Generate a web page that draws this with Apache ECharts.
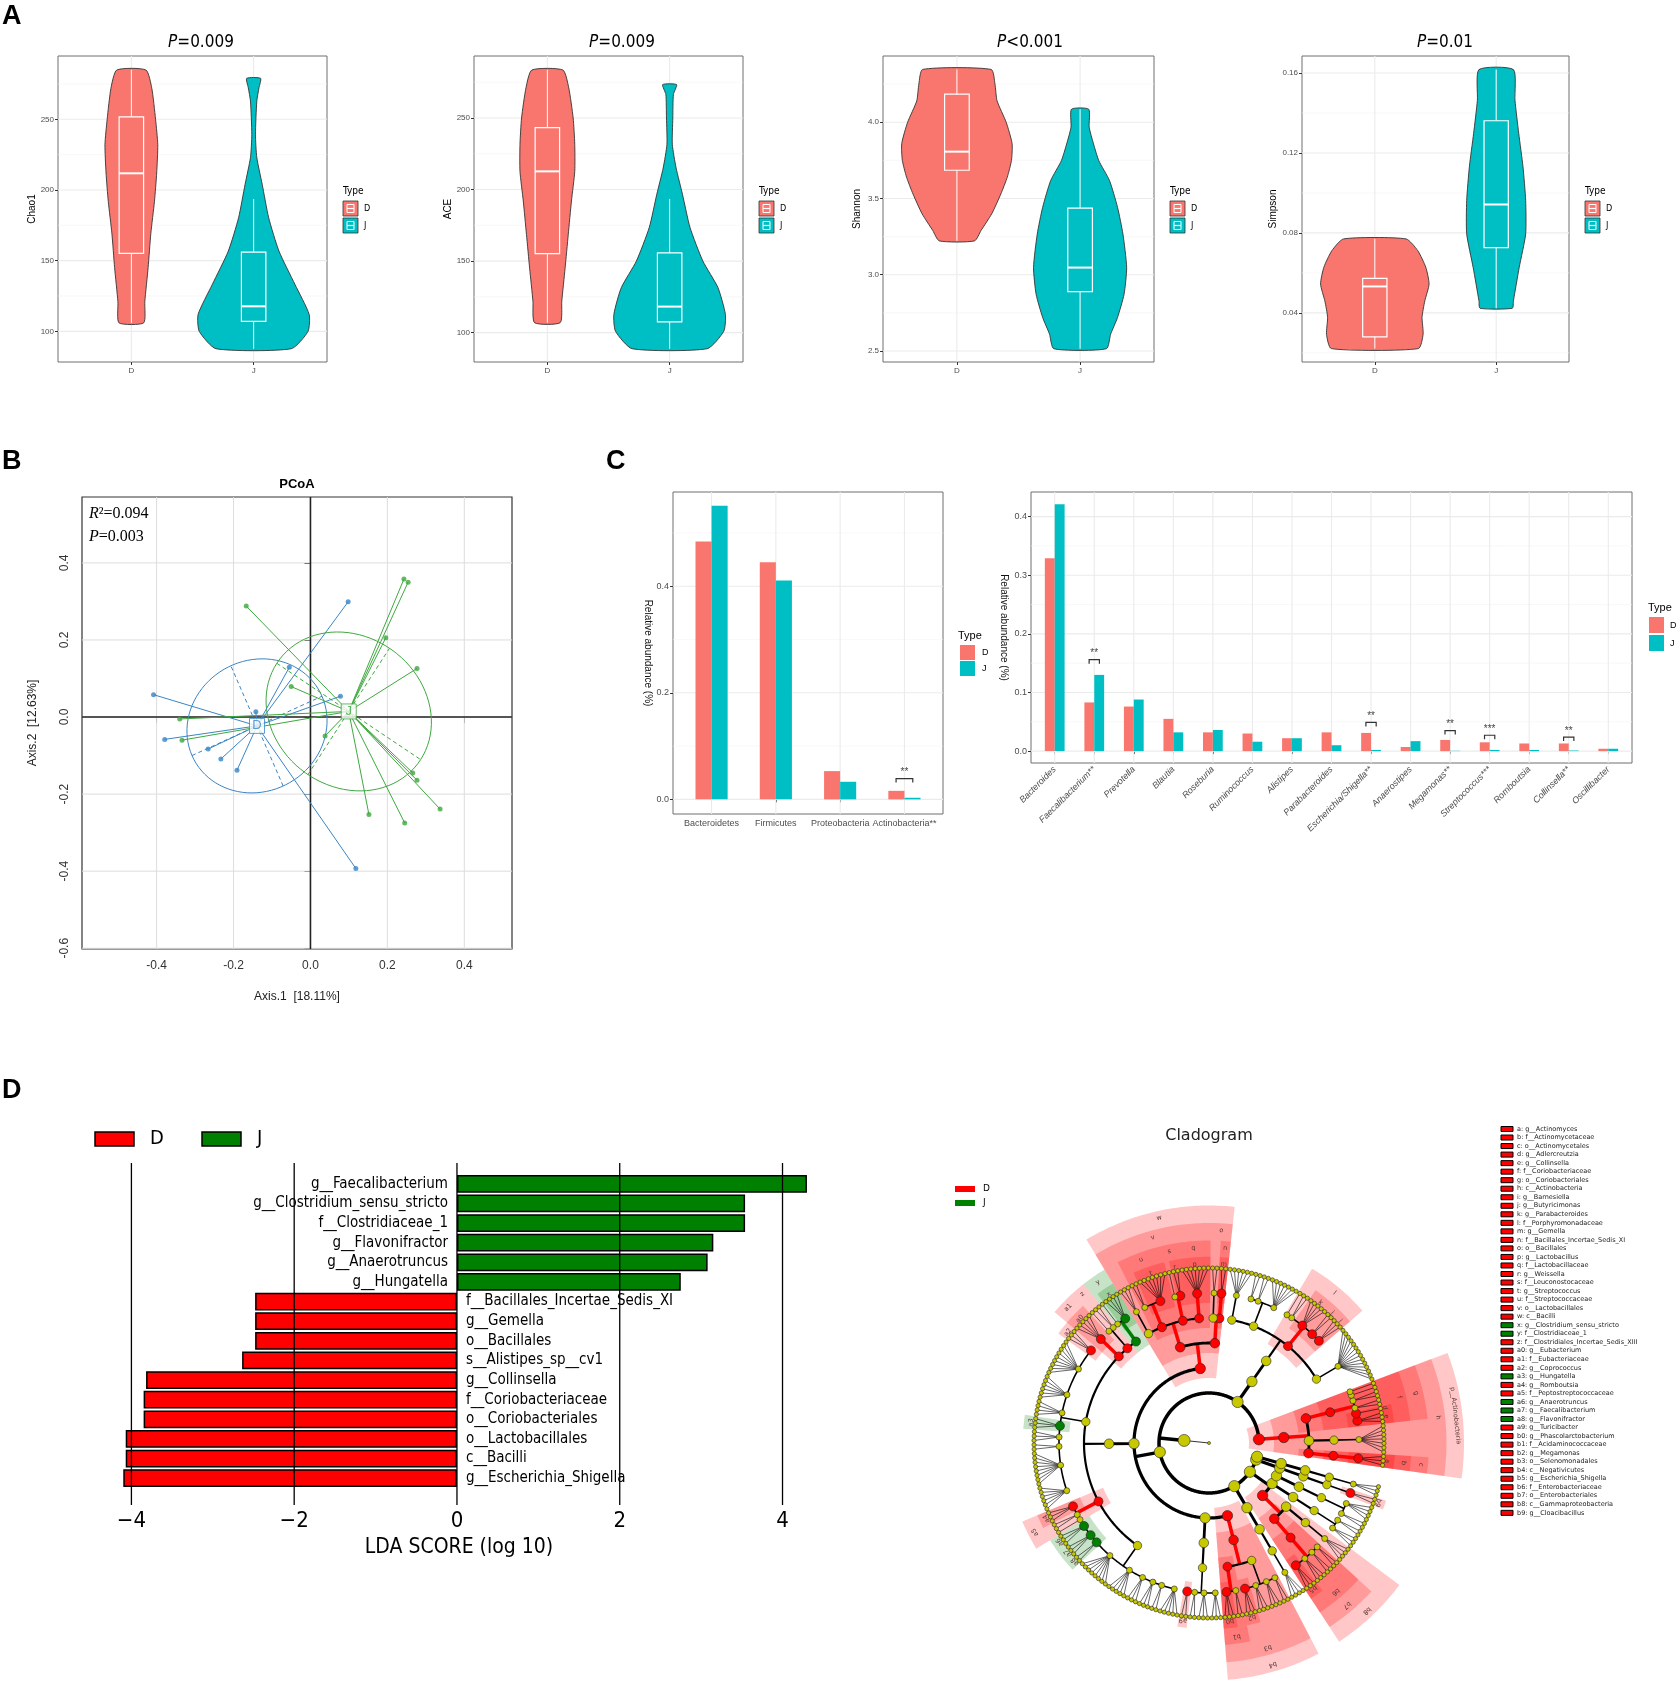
<!DOCTYPE html>
<html>
<head>
<meta charset="utf-8">
<title>Alpha diversity, PCoA, taxa and LEfSe</title>
<script src="https://cdn.jsdelivr.net/npm/echarts@6/dist/echarts.min.js"></script>
<style>
  html, body { margin: 0; padding: 0; background: #fff; }
  #main { width: 1676px; height: 1682px; }
</style>
</head>
<body>
<div id="main"></div>
<script>
const groups = ['D', 'J'];

// ---- A: violins, outline as (value, half width in x units), box = [min, q1, median, q3, max]
const chao1D_y = [284.9, 272, 250, 232, 212, 192, 169, 145, 121, 106];
const chao1D_w = [0.119, 0.167, 0.198, 0.216, 0.207, 0.189, 0.159, 0.137, 0.110, 0.101];
const chao1J_y = [279, 272.4, 263, 239, 222.9, 204, 180.4, 156.8, 133, 112, 100, 87.7];
const chao1J_w = [0.057, 0.044, 0.026, 0.015, 0.026, 0.070, 0.123, 0.207, 0.339, 0.454, 0.445, 0.308];
const chao1D_box = [106, 155.2, 211.8, 251.7, 284.9];
const chao1J_box = [87.7, 107, 117.7, 156, 193.6];

const aceD_y = [283.5, 271, 250, 231.6, 212.7, 192, 168.7, 145, 122, 107];
const aceD_w = [0.127, 0.175, 0.211, 0.224, 0.224, 0.197, 0.171, 0.145, 0.118, 0.105];
const aceJ_y = [273.3, 266.5, 250, 231.6, 215, 196.7, 173.4, 150, 131.5, 112.8, 101, 88.8];
const aceJ_w = [0.057, 0.031, 0.026, 0.022, 0.053, 0.105, 0.167, 0.272, 0.395, 0.456, 0.443, 0.307];
const aceD_box = [107, 155.2, 212.7, 243.2, 283.5];
const aceJ_box = [88.8, 107.5, 118.2, 155.7, 193.4];

const shanD_y = [4.346, 4.25, 4.14, 4.0, 3.86, 3.75, 3.64, 3.53, 3.40, 3.29, 3.222];
const shanD_w = [0.278, 0.309, 0.326, 0.400, 0.448, 0.443, 0.409, 0.357, 0.283, 0.196, 0.143];
const shanJ_y = [4.085, 3.967, 3.858, 3.748, 3.617, 3.442, 3.266, 3.047, 2.872, 2.72, 2.61, 2.515];
const shanJ_w = [0.070, 0.074, 0.109, 0.152, 0.239, 0.304, 0.348, 0.378, 0.357, 0.304, 0.248, 0.213];
const shanD_box = [3.222, 3.685, 3.807, 4.184, 4.346];
const shanJ_box = [2.515, 2.890, 3.047, 3.437, 4.085];

const simpD_y = [0.077, 0.0711, 0.0628, 0.0544, 0.046, 0.0377, 0.0293, 0.0221];
const simpD_w = [0.257, 0.354, 0.420, 0.447, 0.412, 0.389, 0.398, 0.358];
const simpJ_y = [0.1617, 0.1463, 0.1297, 0.113, 0.0962, 0.0795, 0.0628, 0.046, 0.0423];
const simpJ_w = [0.142, 0.155, 0.186, 0.221, 0.243, 0.243, 0.190, 0.142, 0.133];
const simpD_box = [0.0221, 0.028, 0.0532, 0.0572, 0.077];
const simpJ_box = [0.0423, 0.0726, 0.0942, 0.1361, 0.1617];

const alphaNames = ['Chao1', 'ACE', 'Shannon', 'Simpson'];
const alphaP = ['=0.009', '=0.009', '<0.001', '=0.01'];
const alphaRange = [[78.3, 294.8], [79.5, 293.3], [2.428, 4.434], [0.0154, 0.1685]];
const alphaTicks = [[100, 150, 200, 250], [100, 150, 200, 250], [2.5, 3.0, 3.5, 4.0], [0.04, 0.08, 0.12, 0.16]];
const alphaMinor = [[125, 175, 225, 275], [125, 175, 225, 275], [2.75, 3.25, 3.75, 4.25], [0.02, 0.06, 0.10, 0.14]];
const alphaDigits = [0, 0, 1, 2];

// ---- B: PCoA
const pcoaD_x = [-0.408, -0.379, -0.266, -0.233, -0.191, -0.142, -0.055, 0.078, 0.098, 0.118];
const pcoaD_y = [0.058, -0.058, -0.083, -0.109, -0.138, 0.014, 0.129, 0.054, 0.299, -0.393];
const pcoaJ_x = [-0.167, -0.340, -0.334, -0.050, 0.038, 0.196, 0.243, 0.254, 0.277, 0.266, 0.277, 0.337, 0.152, 0.245];
const pcoaJ_y = [0.288, -0.005, -0.060, 0.079, -0.049, 0.206, 0.358, 0.350, 0.126, -0.145, -0.164, -0.239, -0.253, -0.275];
const centroidD = [-0.139, -0.023];
const centroidJ = [0.0995, 0.0145];
const ellipseD = [0.169, 0.077, -0.068, 0.156];   // conjugate half axes u, v
const ellipseJ = [0.187, -0.125, 0.106, 0.164];
const pcoaTicksX = [-0.4, -0.2, 0.0, 0.2, 0.4];
const pcoaTicksY = [-0.6, -0.4, -0.2, 0.0, 0.2, 0.4];

// ---- C: relative abundance
const phyla = ['Bacteroidetes', 'Firmicutes', 'Proteobacteria', 'Actinobacteria**'];
const phylumD = [0.484, 0.445, 0.053, 0.016];
const phylumJ = [0.551, 0.411, 0.033, 0.003];
const phylumSig = [3];
const phylumSigY = [0.039];
const phylumSigText = ['**'];

const genera = ['Bacteroides', 'Faecalibacterium**', 'Prevotella', 'Blautia', 'Roseburia', 'Ruminococcus', 'Alistipes',
  'Parabacteroides', 'Escherichia/Shigella**', 'Anaerostipes', 'Megamonas**', 'Streptococcus***', 'Romboutsia', 'Collinsella**', 'Oscillibacter'];
const genusD = [0.329, 0.083, 0.076, 0.055, 0.032, 0.030, 0.022, 0.032, 0.031, 0.007, 0.019, 0.015, 0.013, 0.013, 0.004];
const genusJ = [0.421, 0.130, 0.088, 0.032, 0.036, 0.016, 0.022, 0.010, 0.002, 0.017, 0.0005, 0.002, 0.002, 0.001, 0.004];
const genusSig = [1, 8, 10, 11, 13];
const genusSigY = [0.156, 0.049, 0.035, 0.027, 0.024];
const genusSigText = ['**', '**', '**', '***', '**'];

// ---- D: LEfSe LDA
const ldaNames = ['g__Faecalibacterium', 'g__Clostridium_sensu_stricto', 'f__Clostridiaceae_1', 'g__Flavonifractor',
  'g__Anaerotruncus', 'g__Hungatella', 'f__Bacillales_Incertae_Sedis_XI', 'g__Gemella', 'o__Bacillales',
  's__Alistipes_sp__cv1', 'g__Collinsella', 'f__Coriobacteriaceae', 'o__Coriobacteriales', 'o__Lactobacillales',
  'c__Bacilli', 'g__Escherichia_Shigella'];
const ldaScores = [4.30, 3.54, 3.54, 3.15, 3.08, 2.75, -2.48, -2.48, -2.48, -2.64, -3.82, -3.85, -3.85, -4.07, -4.07, -4.10];
const ldaTicks = [-4, -2, 0, 2, 4];

// ---- D: cladogram taxonomy [phylum, class, order, family, genus, species leaves]
const cladeRows = [
  ['Actinobacteria', 'Actinobacteria', 'Actinomycetales', 'Actinomycetaceae', 'Actinomyces', 3],
  ['Actinobacteria', 'Actinobacteria', 'Bifidobacteriales', 'Bifidobacteriaceae', 'Bifidobacterium', 7],
  ['Actinobacteria', 'Actinobacteria', 'Coriobacteriales', 'Coriobacteriaceae', 'Collinsella', 3],
  ['Actinobacteria', 'Actinobacteria', 'Coriobacteriales', 'Coriobacteriaceae', 'Adlercreutzia', 1],
  ['Actinobacteria', 'Actinobacteria', 'Coriobacteriales', 'Coriobacteriaceae', 'Eggerthella', 2],
  ['Actinobacteria', 'Actinobacteria', 'Coriobacteriales', 'Coriobacteriaceae', 'Slackia', 2],
  ['Actinobacteria', 'Actinobacteria', 'Coriobacteriales', 'Coriobacteriaceae', 'Gordonibacter', 1],
  ['Actinobacteria', 'Actinobacteria', 'Coriobacteriales', 'Coriobacteriaceae', 'Senegalimassilia', 1],
  ['Bacteroidetes', 'Bacteroidia', 'Bacteroidales', 'Bacteroidaceae', 'Bacteroides', 14],
  ['Bacteroidetes', 'Bacteroidia', 'Bacteroidales', 'Porphyromonadaceae', 'Barnesiella', 3],
  ['Bacteroidetes', 'Bacteroidia', 'Bacteroidales', 'Porphyromonadaceae', 'Butyricimonas', 2],
  ['Bacteroidetes', 'Bacteroidia', 'Bacteroidales', 'Porphyromonadaceae', 'Parabacteroides', 5],
  ['Bacteroidetes', 'Bacteroidia', 'Bacteroidales', 'Porphyromonadaceae', 'Odoribacter', 2],
  ['Bacteroidetes', 'Bacteroidia', 'Bacteroidales', 'Porphyromonadaceae', 'Coprobacter', 1],
  ['Bacteroidetes', 'Bacteroidia', 'Bacteroidales', 'Prevotellaceae', 'Prevotella', 7],
  ['Bacteroidetes', 'Bacteroidia', 'Bacteroidales', 'Prevotellaceae', 'Alloprevotella', 2],
  ['Bacteroidetes', 'Bacteroidia', 'Bacteroidales', 'Prevotellaceae', 'Paraprevotella', 2],
  ['Bacteroidetes', 'Bacteroidia', 'Bacteroidales', 'Rikenellaceae', 'Alistipes', 6],
  ['Firmicutes', 'Bacilli', 'Bacillales', 'Bacillales_Incertae_Sedis_XI', 'Gemella', 2],
  ['Firmicutes', 'Bacilli', 'Bacillales', 'Staphylococcaceae', 'Staphylococcus', 2],
  ['Firmicutes', 'Bacilli', 'Lactobacillales', 'Lactobacillaceae', 'Lactobacillus', 7],
  ['Firmicutes', 'Bacilli', 'Lactobacillales', 'Leuconostocaceae', 'Weissella', 2],
  ['Firmicutes', 'Bacilli', 'Lactobacillales', 'Leuconostocaceae', 'Leuconostoc', 1],
  ['Firmicutes', 'Bacilli', 'Lactobacillales', 'Streptococcaceae', 'Streptococcus', 7],
  ['Firmicutes', 'Bacilli', 'Lactobacillales', 'Streptococcaceae', 'Lactococcus', 2],
  ['Firmicutes', 'Bacilli', 'Lactobacillales', 'Enterococcaceae', 'Enterococcus', 3],
  ['Firmicutes', 'Clostridia', 'Clostridiales', 'Clostridiaceae_1', 'Clostridium_sensu_stricto', 4],
  ['Firmicutes', 'Clostridia', 'Clostridiales', 'Clostridiaceae_1', 'Sarcina', 1],
  ['Firmicutes', 'Clostridia', 'Clostridiales', 'Clostridiales_Incertae_Sedis_XIII', 'Mogibacterium', 2],
  ['Firmicutes', 'Clostridia', 'Clostridiales', 'Clostridiales_Incertae_Sedis_XIII', 'Anaerovorax', 1],
  ['Firmicutes', 'Clostridia', 'Clostridiales', 'Eubacteriaceae', 'Eubacterium', 5],
  ['Firmicutes', 'Clostridia', 'Clostridiales', 'Lachnospiraceae', 'Coprococcus', 3],
  ['Firmicutes', 'Clostridia', 'Clostridiales', 'Lachnospiraceae', 'Blautia', 9],
  ['Firmicutes', 'Clostridia', 'Clostridiales', 'Lachnospiraceae', 'Roseburia', 6],
  ['Firmicutes', 'Clostridia', 'Clostridiales', 'Lachnospiraceae', 'Dorea', 4],
  ['Firmicutes', 'Clostridia', 'Clostridiales', 'Lachnospiraceae', 'Hungatella', 3],
  ['Firmicutes', 'Clostridia', 'Clostridiales', 'Lachnospiraceae', 'Anaerostipes', 3],
  ['Firmicutes', 'Clostridia', 'Clostridiales', 'Lachnospiraceae', 'Fusicatenibacter', 2],
  ['Firmicutes', 'Clostridia', 'Clostridiales', 'Lachnospiraceae', 'Clostridium_XlVa', 8],
  ['Firmicutes', 'Clostridia', 'Clostridiales', 'Lachnospiraceae', 'Lachnospiracea_incertae_sedis', 6],
  ['Firmicutes', 'Clostridia', 'Clostridiales', 'Peptostreptococcaceae', 'Romboutsia', 3],
  ['Firmicutes', 'Clostridia', 'Clostridiales', 'Peptostreptococcaceae', 'Intestinibacter', 2],
  ['Firmicutes', 'Clostridia', 'Clostridiales', 'Peptostreptococcaceae', 'Terrisporobacter', 1],
  ['Firmicutes', 'Clostridia', 'Clostridiales', 'Ruminococcaceae', 'Anaerotruncus', 3],
  ['Firmicutes', 'Clostridia', 'Clostridiales', 'Ruminococcaceae', 'Faecalibacterium', 3],
  ['Firmicutes', 'Clostridia', 'Clostridiales', 'Ruminococcaceae', 'Flavonifractor', 2],
  ['Firmicutes', 'Clostridia', 'Clostridiales', 'Ruminococcaceae', 'Ruminococcus', 8],
  ['Firmicutes', 'Clostridia', 'Clostridiales', 'Ruminococcaceae', 'Oscillibacter', 5],
  ['Firmicutes', 'Clostridia', 'Clostridiales', 'Ruminococcaceae', 'Subdoligranulum', 3],
  ['Firmicutes', 'Clostridia', 'Clostridiales', 'Ruminococcaceae', 'Gemmiger', 3],
  ['Firmicutes', 'Clostridia', 'Clostridiales', 'Ruminococcaceae', 'Butyricicoccus', 2],
  ['Firmicutes', 'Clostridia', 'Clostridiales', 'Ruminococcaceae', 'Clostridium_IV', 5],
  ['Firmicutes', 'Erysipelotrichia', 'Erysipelotrichales', 'Erysipelotrichaceae', 'Turicibacter', 2],
  ['Firmicutes', 'Erysipelotrichia', 'Erysipelotrichales', 'Erysipelotrichaceae', 'Holdemanella', 2],
  ['Firmicutes', 'Erysipelotrichia', 'Erysipelotrichales', 'Erysipelotrichaceae', 'Clostridium_XVIII', 3],
  ['Firmicutes', 'Erysipelotrichia', 'Erysipelotrichales', 'Erysipelotrichaceae', 'Erysipelatoclostridium', 3],
  ['Firmicutes', 'Negativicutes', 'Selenomonadales', 'Acidaminococcaceae', 'Phascolarctobacterium', 3],
  ['Firmicutes', 'Negativicutes', 'Selenomonadales', 'Acidaminococcaceae', 'Acidaminococcus', 2],
  ['Firmicutes', 'Negativicutes', 'Selenomonadales', 'Veillonellaceae', 'Megamonas', 3],
  ['Firmicutes', 'Negativicutes', 'Selenomonadales', 'Veillonellaceae', 'Veillonella', 3],
  ['Firmicutes', 'Negativicutes', 'Selenomonadales', 'Veillonellaceae', 'Dialister', 3],
  ['Firmicutes', 'Negativicutes', 'Selenomonadales', 'Veillonellaceae', 'Megasphaera', 2],
  ['Fusobacteria', 'Fusobacteriia', 'Fusobacteriales', 'Fusobacteriaceae', 'Fusobacterium', 4],
  ['Proteobacteria', 'Gammaproteobacteria', 'Enterobacteriales', 'Enterobacteriaceae', 'Escherichia_Shigella', 3],
  ['Proteobacteria', 'Gammaproteobacteria', 'Enterobacteriales', 'Enterobacteriaceae', 'Klebsiella', 3],
  ['Proteobacteria', 'Gammaproteobacteria', 'Enterobacteriales', 'Enterobacteriaceae', 'Enterobacter', 2],
  ['Proteobacteria', 'Gammaproteobacteria', 'Enterobacteriales', 'Enterobacteriaceae', 'Citrobacter', 2],
  ['Proteobacteria', 'Gammaproteobacteria', 'Pasteurellales', 'Pasteurellaceae', 'Haemophilus', 4],
  ['Proteobacteria', 'Betaproteobacteria', 'Burkholderiales', 'Sutterellaceae', 'Sutterella', 3],
  ['Proteobacteria', 'Betaproteobacteria', 'Burkholderiales', 'Sutterellaceae', 'Parasutterella', 2],
  ['Proteobacteria', 'Deltaproteobacteria', 'Desulfovibrionales', 'Desulfovibrionaceae', 'Bilophila', 2],
  ['Proteobacteria', 'Deltaproteobacteria', 'Desulfovibrionales', 'Desulfovibrionaceae', 'Desulfovibrio', 4],
  ['Synergistetes', 'Synergistia', 'Synergistales', 'Synergistaceae', 'Cloacibacillus', 2],
  ['Verrucomicrobia', 'Verrucomicrobiae', 'Verrucomicrobiales', 'Verrucomicrobiaceae', 'Akkermansia', 3]
];
const keyLetters = ['a','b','c','d','e','f','g','h','i','j','k','l','m','n','o','p','q','r','s','t','u','v','w','x','y','z',
  'a0','a1','a2','a3','a4','a5','a6','a7','a8','a9','b0','b1','b2','b3','b4','b5','b6','b7','b8','b9'];
const keyTaxa = ['g__Actinomyces','f__Actinomycetaceae','o__Actinomycetales','g__Adlercreutzia','g__Collinsella',
  'f__Coriobacteriaceae','o__Coriobacteriales','c__Actinobacteria','g__Barnesiella','g__Butyricimonas','g__Parabacteroides',
  'f__Porphyromonadaceae','g__Gemella','f__Bacillales_Incertae_Sedis_XI','o__Bacillales','g__Lactobacillus','f__Lactobacillaceae',
  'g__Weissella','f__Leuconostocaceae','g__Streptococcus','f__Streptococcaceae','o__Lactobacillales','c__Bacilli',
  'g__Clostridium_sensu_stricto','f__Clostridiaceae_1','f__Clostridiales_Incertae_Sedis_XIII','g__Eubacterium','f__Eubacteriaceae',
  'g__Coprococcus','g__Hungatella','g__Romboutsia','f__Peptostreptococcaceae','g__Anaerotruncus','g__Faecalibacterium',
  'g__Flavonifractor','g__Turicibacter','g__Phascolarctobacterium','f__Acidaminococcaceae','g__Megamonas','o__Selenomonadales',
  'c__Negativicutes','g__Escherichia_Shigella','f__Enterobacteriaceae','o__Enterobacteriales','c__Gammaproteobacteria','g__Cloacibacillus'];
const keyGroups = ['D','D','D','D','D','D','D','D','D','D','D','D','D','D','D','D','D','D','D','D','D','D','D',
  'J','J','D','D','D','D','J','D','D','J','J','J','D','D','D','D','D','D','D','D','D','D','D'];
const phylumMarks = ['p__Actinobacteria'];
const phylumMarkGroups = ['D'];

// ---------------- styling ----------------
const colD = '#F8766D', colJ = '#00BFC4';
const RED = '#FF0000', GREEN = '#008000', YEL = '#C8C800';
const SANS = '"Liberation Sans", Arial, sans-serif';
const NARROW = '"Liberation Sans Narrow", "DejaVu Sans Condensed", sans-serif';
const COND = '"DejaVu Sans Condensed", "DejaVu Sans", sans-serif';
const DEJ = '"DejaVu Sans", sans-serif';
const SERIF = '"Liberation Serif", serif';

const aLeft = [58, 474, 883, 1302];
const aWidth = [269, 269, 271, 267];
const aTitleX = [201, 622, 1030, 1445];
const aTop = 56, aHeight = 306;

const chart = echarts.init(document.getElementById('main'));

function gridLines(gi, xs, ys, color, width, z) {
  return {
    type: 'custom', xAxisIndex: gi, yAxisIndex: gi, silent: true, z: z || 1,
    data: xs.map(v => [v, 0]).concat(ys.map(v => [v, 1])),
    renderItem: (params, api) => {
      const cs = params.coordSys, v = api.value(0), p = api.coord([v, v]);
      const shape = api.value(1) === 1
        ? { x1: cs.x, y1: p[1], x2: cs.x + cs.width, y2: p[1] }
        : { x1: p[0], y1: cs.y, x2: p[0], y2: cs.y + cs.height };
      return { type: 'line', shape, style: { stroke: color, lineWidth: width } };
    }
  };
}

function violinSeries(gi, grp, x, ys, ws, box, color) {
  return {
    type: 'custom', name: grp, xAxisIndex: gi, yAxisIndex: gi, z: 3, silent: true,
    itemStyle: { color },
    data: [[x].concat(box)],
    renderItem: (params, api) => {
      const cx = api.value(0), bw = 0.1;
      const right = ys.map((y, k) => api.coord([cx + ws[k], y]));
      const left = ys.map((y, k) => api.coord([cx - ws[k], y])).reverse();
      const p = k => api.coord([cx, api.value(k)]);
      const tl = api.coord([cx - bw, api.value(4)]), br = api.coord([cx + bw, api.value(2)]);
      const m0 = api.coord([cx - bw, api.value(3)]), m1 = api.coord([cx + bw, api.value(3)]);
      return { type: 'group', children: [
        { type: 'polygon', shape: { points: right.concat(left), smooth: 0.2 }, style: { fill: color, stroke: '#333', lineWidth: 0.9 } },
        { type: 'line', shape: { x1: p(1)[0], y1: p(1)[1], x2: p(2)[0], y2: p(2)[1] }, style: { stroke: '#fff', lineWidth: 1 } },
        { type: 'line', shape: { x1: p(4)[0], y1: p(4)[1], x2: p(5)[0], y2: p(5)[1] }, style: { stroke: '#fff', lineWidth: 1 } },
        { type: 'rect', shape: { x: tl[0], y: tl[1], width: br[0] - tl[0], height: br[1] - tl[1] }, style: { fill: color, stroke: '#fff', lineWidth: 1.2 } },
        { type: 'line', shape: { x1: m0[0], y1: m0[1], x2: m1[0], y2: m1[1] }, style: { stroke: '#fff', lineWidth: 2 } }
      ] };
    }
  };
}

function barSeries(gi, vals, off, color, name) {
  return {
    type: 'custom', name, xAxisIndex: gi, yAxisIndex: gi, z: 3, silent: true,
    data: vals.map((v, i) => [i + 1 + off, v]),
    renderItem: (params, api) => {
      const a = api.coord([api.value(0) - 0.125, api.value(1)]);
      const b = api.coord([api.value(0) + 0.125, 0]);
      return { type: 'rect', shape: { x: a[0], y: a[1], width: b[0] - a[0], height: b[1] - a[1] }, style: { fill: color } };
    }
  };
}

function sigSeries(gi, idx, ys, marks) {
  return {
    type: 'custom', xAxisIndex: gi, yAxisIndex: gi, z: 4, silent: true,
    data: idx.map((i, k) => [i + 1, ys[k]]),
    renderItem: (params, api) => {
      const x = api.value(0), y = api.value(1);
      const a = api.coord([x - 0.13, y]), b = api.coord([x + 0.13, y]);
      return { type: 'group', children: [
        { type: 'polyline', shape: { points: [[a[0], a[1] + 4], [a[0], a[1]], [b[0], b[1]], [b[0], b[1] + 4]] }, style: { stroke: '#333', lineWidth: 1.2, fill: 'none' } },
        { type: 'text', x: (a[0] + b[0]) / 2, y: a[1] - 1, style: { text: marks[params.dataIndex], fontSize: 10, fill: '#444', align: 'center', verticalAlign: 'bottom', fontFamily: SANS } }
      ] };
    }
  };
}

// ---------------- cladogram layout ----------------
const prefixes = ['p__', 'c__', 'o__', 'f__', 'g__'];
function buildTree() {
  const root = { name: '', depth: 0, children: [] };
  const king = { name: 'k__Bacteria', depth: 1, children: [] };
  root.children.push(king);
  cladeRows.forEach(row => {
    let node = king;
    for (let l = 0; l < 5; l++) {
      const nm = prefixes[l] + row[l];
      let ch = node.children.find(c => c.name === nm);
      if (!ch) { ch = { name: nm, depth: l + 2, children: [] }; node.children.push(ch); }
      node = ch;
    }
    for (let s = 0; s < row[5]; s++) node.children.push({ name: '', depth: 7, children: [] });
  });
  return root;
}
const tree = buildTree();
let leafCount = 0;
(function place(n) {
  if (!n.children.length) { n.a = leafCount + 0.5; n.lo = n.a; n.hi = n.a; leafCount++; return; }
  n.children.forEach(place);
  const f = n.children[0], l = n.children[n.children.length - 1];
  n.lo = f.lo; n.hi = l.hi; n.a = (f.a + l.a) / 2;
})(tree);
const angleMax = leafCount + 4;

function markOf(name) {
  const k = keyTaxa.indexOf(name);
  if (k >= 0) return { label: keyLetters[k], grp: keyGroups[k] };
  const p = phylumMarks.indexOf(name);
  if (p >= 0) return { label: name, grp: phylumMarkGroups[p] };
  return null;
}
const nodeR = [1.5, 6, 5.6, 5.2, 4.8, 4.2, 3.0, 2.1];
const branchW = [0.8, 3.5, 3.2, 2.8, 2.2, 1.6, 0.6];
const sectorOut = [0, 0, 10.2, 9.5, 8.8, 8.1, 7.45];
const nodeData = [], nodeCol = [], branchData = [], branchKind = [], branchCol = [];
const sectorData = [], sectorFill = [], sectorLabel = [];
(function walk(n) {
  const m = n.name ? markOf(n.name) : null;
  const mc = m ? (m.grp === 'D' ? RED : GREEN) : null;
  nodeData.push([n.depth, n.a, m ? Math.max(nodeR[n.depth], 4.5) : nodeR[n.depth]]);
  nodeCol.push(mc || YEL);
  if (m) {
    sectorData.push([n.depth - 0.4, n.lo - 0.5, sectorOut[n.depth], n.hi + 0.5]);
    sectorFill.push(m.grp === 'D' ? 'rgba(255,0,0,0.22)' : 'rgba(0,128,0,0.22)');
    sectorLabel.push(m.label);
  }
  if (!n.children.length) return;
  const d = n.depth;
  const sameMarked = n.children.some(c => { const cm = c.name ? markOf(c.name) : null; return m && cm && cm.grp === m.grp; });
  if (d === 0 || d >= 6) {
    n.children.forEach(c => { branchData.push([d, n.a, d + 1, c.a, branchW[d]]); branchKind.push(0); branchCol.push('#000'); });
  } else {
    branchData.push([d, n.a, d + 1, n.a, sameMarked ? Math.max(branchW[d], 3.5) : branchW[d]]);
    branchKind.push(0); branchCol.push(sameMarked ? mc : '#000');
    if (n.children.length > 1) {
      branchData.push([d + 1, n.children[0].a, d + 1, n.children[n.children.length - 1].a, branchW[d]]);
      branchKind.push(1); branchCol.push('#000');
    }
  }
  n.children.forEach(walk);
})(tree);

// ---------------- graphics (letters, titles, legends) ----------------
const gfx = [];
function txt(x, y, text, o) {
  gfx.push({ type: 'text', x, y, silent: true, style: Object.assign({ text, fill: '#000', fontFamily: SANS, fontSize: 12, align: 'left', verticalAlign: 'middle' }, o || {}) });
}
function box(x, y, w, h, fill, stroke, lw) {
  gfx.push({ type: 'rect', silent: true, shape: { x, y, width: w, height: h }, style: { fill, stroke: stroke || null, lineWidth: lw || 0 } });
}
[['A', 2, 17], ['B', 2, 462], ['C', 606, 462], ['D', 2, 1091]].forEach(l => txt(l[1], l[2], l[0], { fontSize: 27, fontWeight: 'bold' }));

alphaNames.forEach((nm, i) => {
  txt(aTitleX[i], 43, '{i|P}' + alphaP[i], { align: 'center', fontFamily: NARROW, fontSize: 17, rich: { i: { fontStyle: 'italic', fontFamily: NARROW, fontSize: 17 } } });
  const lx = aLeft[i] + aWidth[i] + 16;
  txt(lx, 191, 'Type', { fontSize: 10, fontFamily: NARROW });
  groups.forEach((g, k) => {
    const y = 201 + k * 17;
    box(lx, y, 15, 15, k ? colJ : colD, '#333', 0.8);
    box(lx + 4, y + 3.5, 7, 8, 'none', '#fff', 1);
    gfx.push({ type: 'line', silent: true, shape: { x1: lx + 4, y1: y + 7.5, x2: lx + 11, y2: y + 7.5 }, style: { stroke: '#fff', lineWidth: 1.2 } });
    txt(lx + 21, y + 8, g, { fontSize: 9, fontFamily: NARROW });
  });
});

txt(297, 484, 'PCoA', { align: 'center', fontWeight: 'bold', fontSize: 13 });
txt(89, 514, '{i|R}\u00B2=0.094', { fontFamily: SERIF, fontSize: 16, rich: { i: { fontStyle: 'italic', fontFamily: SERIF, fontSize: 16 } } });
txt(89, 537, '{i|P}=0.003', { fontFamily: SERIF, fontSize: 16, rich: { i: { fontStyle: 'italic', fontFamily: SERIF, fontSize: 16 } } });

// legends of C
txt(958, 636, 'Type', { fontSize: 11 });
box(960, 645, 15, 15, colD); box(960, 661, 15, 15, colJ);
txt(982, 653, 'D', { fontSize: 9 }); txt(982, 669, 'J', { fontSize: 9 });
txt(1648, 608, 'Type', { fontSize: 11 });
box(1649, 617, 15, 16, colD); box(1649, 635, 15, 16, colJ);
txt(1670, 626, 'D', { fontSize: 9 }); txt(1670, 644, 'J', { fontSize: 9 });

// LDA legend
box(95, 1132, 39, 14, RED, '#000', 1.5); txt(150, 1139, 'D', { fontSize: 20, fontFamily: COND });
box(202, 1132, 39, 14, GREEN, '#000', 1.5); txt(257, 1139, 'J', { fontSize: 20, fontFamily: COND });

// cladogram title, legend and key list
txt(1209, 1136, 'Cladogram', { align: 'center', fontSize: 16, fontFamily: DEJ, fill: '#222' });
box(955, 1186, 20, 6, RED); txt(983, 1189, 'D', { fontSize: 9, fontFamily: DEJ });
box(955, 1200, 20, 6, GREEN); txt(983, 1203, 'J', { fontSize: 9, fontFamily: DEJ });
keyLetters.forEach((l, i) => {
  const y = 1129 + i * 8.53;
  box(1501, y - 2.5, 12, 5, keyGroups[i] === 'D' ? RED : GREEN, '#000', 1);
  txt(1517, y, l + ': ' + keyTaxa[i], { fontSize: 6.5, fontFamily: DEJ, fill: '#222' });
});

// ---------------- axes & grids ----------------
const grids = [], xAxes = [], yAxes = [], series = [];
const tickLab = { fontSize: 8, color: '#4D4D4D', fontFamily: SANS };

alphaNames.forEach((nm, i) => {
  grids.push({ left: aLeft[i], top: aTop, width: aWidth[i], height: aHeight, show: true, borderColor: '#6E6E6E', borderWidth: 1, backgroundColor: 'transparent', containLabel: false, outerBoundsMode: 'none' });
  xAxes.push({ gridIndex: i, type: 'value', min: 0.4, max: 2.6,
    axisLine: { show: false }, splitLine: { show: false },
    axisTick: { show: true, customValues: [1, 2], length: 3, lineStyle: { color: '#333' } },
    axisLabel: Object.assign({ customValues: [1, 2], margin: 5, formatter: v => groups[Math.round(v) - 1] }, tickLab) });
  yAxes.push({ gridIndex: i, type: 'value', min: alphaRange[i][0], max: alphaRange[i][1],
    name: nm, nameLocation: 'middle', nameRotate: 90, nameGap: 21, nameTextStyle: { fontSize: 10, color: '#000', fontFamily: SANS },
    axisLine: { show: false }, splitLine: { show: false },
    axisTick: { show: true, customValues: alphaTicks[i], length: 3, lineStyle: { color: '#333' } },
    axisLabel: Object.assign({ customValues: alphaTicks[i], margin: 4, formatter: v => v.toFixed(alphaDigits[i]) }, tickLab) });
  series.push(gridLines(i, [], alphaMinor[i], '#F3F3F3', 0.6));
  series.push(gridLines(i, [1, 2], alphaTicks[i], '#EBEBEB', 1.1));
});
series.push(violinSeries(0, 'D', 1, chao1D_y, chao1D_w, chao1D_box, colD));
series.push(violinSeries(0, 'J', 2, chao1J_y, chao1J_w, chao1J_box, colJ));
series.push(violinSeries(1, 'D', 1, aceD_y, aceD_w, aceD_box, colD));
series.push(violinSeries(1, 'J', 2, aceJ_y, aceJ_w, aceJ_box, colJ));
series.push(violinSeries(2, 'D', 1, shanD_y, shanD_w, shanD_box, colD));
series.push(violinSeries(2, 'J', 2, shanJ_y, shanJ_w, shanJ_box, colJ));
series.push(violinSeries(3, 'D', 1, simpD_y, simpD_w, simpD_box, colD));
series.push(violinSeries(3, 'J', 2, simpJ_y, simpJ_w, simpJ_box, colJ));

// B: PCoA (grid 4)
const blue = '#3A85C6', green = '#3FA83F';
grids.push({ left: 82, top: 497, width: 430, height: 452, show: true, borderColor: '#333', borderWidth: 1.2, backgroundColor: 'transparent', containLabel: false, outerBoundsMode: 'none' });
xAxes.push({ gridIndex: 4, type: 'value', min: -0.594, max: 0.524,
  name: 'Axis.1  [18.11%]', nameLocation: 'middle', nameGap: 42, nameTextStyle: { fontSize: 12, color: '#222', fontFamily: SANS },
  axisLine: { show: false }, splitLine: { show: false },
  axisTick: { show: true, customValues: pcoaTicksX, length: 6, lineStyle: { color: '#333' } },
  axisLabel: { customValues: pcoaTicksX, margin: 11, fontSize: 12, color: '#333', fontFamily: SANS, formatter: v => v.toFixed(1) } });
yAxes.push({ gridIndex: 4, type: 'value', min: -0.602, max: 0.571,
  name: 'Axis.2  [12.63%]', nameLocation: 'middle', nameRotate: 90, nameGap: 43, nameTextStyle: { fontSize: 12, color: '#222', fontFamily: SANS },
  axisLine: { show: false }, splitLine: { show: false },
  axisTick: { show: true, customValues: pcoaTicksY, length: 6, lineStyle: { color: '#333' } },
  axisLabel: { customValues: pcoaTicksY, margin: 11, rotate: 90, fontSize: 12, color: '#333', fontFamily: SANS, formatter: v => v.toFixed(1) } });
series.push(gridLines(4, pcoaTicksX, pcoaTicksY, '#DDDDDD', 1));
series.push(gridLines(4, [0], [0], '#222', 1.6, 2));
function spider(xs, ys, c, col) {
  return { type: 'lines', coordinateSystem: 'cartesian2d', xAxisIndex: 4, yAxisIndex: 4, silent: true, z: 3,
    lineStyle: { color: col, width: 1, opacity: 1 },
    data: xs.map((x, i) => ({ coords: [[x, ys[i]], c] })) };
}
function axesDashed(c, e, col) {
  return { type: 'lines', coordinateSystem: 'cartesian2d', xAxisIndex: 4, yAxisIndex: 4, silent: true, z: 3,
    lineStyle: { color: col, width: 1, type: [4, 3], opacity: 1 },
    data: [{ coords: [[c[0] - e[0], c[1] - e[1]], [c[0] + e[0], c[1] + e[1]]] },
           { coords: [[c[0] - e[2], c[1] - e[3]], [c[0] + e[2], c[1] + e[3]]] }] };
}
function ellipse(c, e, col) {
  return { type: 'custom', xAxisIndex: 4, yAxisIndex: 4, silent: true, z: 3,
    data: [[c[0], c[1], e[0], e[1], e[2], e[3]]],
    renderItem: (params, api) => {
      const pts = [];
      for (let k = 0; k <= 90; k++) {
        const t = k / 90 * Math.PI * 2;
        pts.push(api.coord([api.value(0) + api.value(2) * Math.cos(t) + api.value(4) * Math.sin(t),
                            api.value(1) + api.value(3) * Math.cos(t) + api.value(5) * Math.sin(t)]));
      }
      return { type: 'polyline', shape: { points: pts }, style: { stroke: col, lineWidth: 1, fill: 'none' } };
    } };
}
series.push(ellipse(centroidD, ellipseD, blue), ellipse(centroidJ, ellipseJ, green));
series.push(axesDashed(centroidD, ellipseD, blue), axesDashed(centroidJ, ellipseJ, green));
series.push(spider(pcoaD_x, pcoaD_y, centroidD, blue), spider(pcoaJ_x, pcoaJ_y, centroidJ, green));
series.push({ type: 'scatter', name: 'D', xAxisIndex: 4, yAxisIndex: 4, z: 4, silent: true, symbolSize: 5,
  itemStyle: { color: blue }, data: pcoaD_x.map((x, i) => [x, pcoaD_y[i]]) });
series.push({ type: 'scatter', name: 'J', xAxisIndex: 4, yAxisIndex: 4, z: 4, silent: true, symbolSize: 5,
  itemStyle: { color: green }, data: pcoaJ_x.map((x, i) => [x, pcoaJ_y[i]]) });
series.push({ type: 'scatter', xAxisIndex: 4, yAxisIndex: 4, z: 5, silent: true, symbol: 'rect', symbolSize: 15,
  data: [
    { value: centroidD, itemStyle: { color: '#fff', borderColor: blue, borderWidth: 1 }, label: { show: true, position: 'inside', formatter: 'D', color: blue, fontSize: 13, fontFamily: SANS } },
    { value: centroidJ, itemStyle: { color: '#fff', borderColor: green, borderWidth: 1 }, label: { show: true, position: 'inside', formatter: 'J', color: green, fontSize: 13, fontFamily: SANS } }
  ] });

// C: abundance bars (grids 5, 6)
grids.push({ left: 673, top: 492, width: 270, height: 322, show: true, borderColor: '#6E6E6E', borderWidth: 1, backgroundColor: 'transparent', containLabel: false, outerBoundsMode: 'none' });
grids.push({ left: 1031, top: 492, width: 601, height: 271, show: true, borderColor: '#6E6E6E', borderWidth: 1, backgroundColor: 'transparent', containLabel: false, outerBoundsMode: 'none' });
const phylumPos = phyla.map((p, i) => i + 1), genusPos = genera.map((g, i) => i + 1);
xAxes.push({ gridIndex: 5, type: 'value', min: 0.4, max: 4.6, axisLine: { show: false }, splitLine: { show: false },
  axisTick: { show: true, customValues: phylumPos, length: 3, lineStyle: { color: '#333' } },
  axisLabel: Object.assign({}, tickLab, { customValues: phylumPos, margin: 5, fontSize: 9, formatter: v => phyla[Math.round(v) - 1] }) });
xAxes.push({ gridIndex: 6, type: 'value', min: 0.4, max: 15.6, axisLine: { show: false }, splitLine: { show: false },
  axisTick: { show: true, customValues: genusPos, length: 3, lineStyle: { color: '#333' } },
  axisLabel: Object.assign({}, tickLab, { customValues: genusPos, margin: 5, fontSize: 9, rotate: 45, fontStyle: 'italic', formatter: v => genera[Math.round(v) - 1] }) });
const abTicksL = [0, 0.2, 0.4], abTicksR = [0, 0.1, 0.2, 0.3, 0.4];
yAxes.push({ gridIndex: 5, type: 'value', min: -0.0275, max: 0.577,
  name: 'Relative abundance (%)', nameLocation: 'middle', nameRotate: -90, nameGap: 20, nameTextStyle: { fontSize: 10, color: '#111', fontFamily: SANS },
  axisLine: { show: false }, splitLine: { show: false },
  axisTick: { show: true, customValues: abTicksL, length: 3, lineStyle: { color: '#333' } },
  axisLabel: Object.assign({}, tickLab, { customValues: abTicksL, margin: 4, fontSize: 9, formatter: v => v.toFixed(1) }) });
yAxes.push({ gridIndex: 6, type: 'value', min: -0.0203, max: 0.442,
  name: 'Relative abundance (%)', nameLocation: 'middle', nameRotate: -90, nameGap: 22, nameTextStyle: { fontSize: 10, color: '#111', fontFamily: SANS },
  axisLine: { show: false }, splitLine: { show: false },
  axisTick: { show: true, customValues: abTicksR, length: 3, lineStyle: { color: '#333' } },
  axisLabel: Object.assign({}, tickLab, { customValues: abTicksR, margin: 4, fontSize: 9, formatter: v => v.toFixed(1) }) });
series.push(gridLines(5, [], [0.1, 0.3, 0.5], '#F3F3F3', 0.6));
series.push(gridLines(5, phylumPos, abTicksL, '#EBEBEB', 1.1));
series.push(gridLines(6, [], [0.05, 0.15, 0.25, 0.35], '#F3F3F3', 0.6));
series.push(gridLines(6, genusPos, abTicksR, '#EBEBEB', 1.1));
series.push(barSeries(5, phylumD, -0.125, colD, 'D'), barSeries(5, phylumJ, 0.125, colJ, 'J'));
series.push(barSeries(6, genusD, -0.125, colD, 'D'), barSeries(6, genusJ, 0.125, colJ, 'J'));
series.push(sigSeries(5, phylumSig, phylumSigY, phylumSigText));
series.push(sigSeries(6, genusSig, genusSigY, genusSigText));

// D: LDA (grid 7 bars, grid 8 reference lines + axis)
const ldaMin = -4.3, ldaMax = 4.35;
grids.push({ left: 107, top: 1174, width: 704, height: 314, show: false, containLabel: false, outerBoundsMode: 'none' });
grids.push({ left: 107, top: 1163, width: 704, height: 342, show: false, containLabel: false, outerBoundsMode: 'none' });
xAxes.push({ gridIndex: 7, type: 'value', min: ldaMin, max: ldaMax, show: false, splitLine: { show: false } });
yAxes.push({ gridIndex: 7, type: 'category', data: ldaNames, inverse: true, show: false });
xAxes.push({ gridIndex: 8, type: 'value', min: ldaMin, max: ldaMax,
  name: 'LDA SCORE (log 10)', nameLocation: 'middle', nameGap: 32, nameTextStyle: { fontSize: 21, color: '#000', fontFamily: COND },
  axisLine: { show: false }, axisTick: { show: false }, splitLine: { show: false },
  axisLabel: { customValues: ldaTicks, margin: 5, fontSize: 22, color: '#000', fontFamily: COND, formatter: v => (v < 0 ? '\u2212' + (-v) : '' + v) } });
yAxes.push({ gridIndex: 8, type: 'value', min: 0, max: 1, show: false, splitLine: { show: false } });
series.push({ type: 'bar', xAxisIndex: 7, yAxisIndex: 7, z: 2, silent: true, barCategoryGap: '10%',
  itemStyle: { borderColor: '#000', borderWidth: 1.5 },
  label: { show: true, distance: 9, fontSize: 15, color: '#000', fontFamily: COND, formatter: p => ldaNames[p.dataIndex] },
  data: ldaScores.map(v => ({ value: v, itemStyle: { color: v > 0 ? GREEN : RED }, label: { position: v > 0 ? 'left' : 'right' } })) });
series.push(gridLines(8, ldaTicks, [], '#000', 1.3, 6));

// D: cladogram on polar
series.push({ type: 'custom', coordinateSystem: 'polar', polarIndex: 0, silent: true, z: 1, encode: { radius: 0, angle: 1 },
  data: sectorData,
  renderItem: (params, api) => {
    const r0 = api.value(0), a0 = api.value(1), r1 = api.value(2), a1 = api.value(3);
    const n = Math.max(3, Math.ceil((a1 - a0) * 2)), pts = [];
    for (let k = 0; k <= n; k++) pts.push(api.coord([r1, a0 + (a1 - a0) * k / n]));
    for (let k = n; k >= 0; k--) pts.push(api.coord([r0, a0 + (a1 - a0) * k / n]));
    const am = (a0 + a1) / 2, c0 = api.coord([0, am]), lp = api.coord([r1 - 0.28, am]);
    const th = Math.atan2(-(lp[1] - c0[1]), lp[0] - c0[0]);
    return { type: 'group', children: [
      { type: 'polygon', shape: { points: pts }, style: { fill: sectorFill[params.dataIndex] } },
      { type: 'text', x: lp[0], y: lp[1], rotation: th - Math.PI / 2, style: { text: sectorLabel[params.dataIndex], fontSize: 6.5, fill: '#553333', align: 'center', verticalAlign: 'middle', fontFamily: DEJ } }
    ] };
  } });
series.push({ type: 'custom', coordinateSystem: 'polar', polarIndex: 0, silent: true, z: 2, encode: { radius: 0, angle: 1 },
  data: branchData,
  renderItem: (params, api) => {
    const r0 = api.value(0), a0 = api.value(1), r1 = api.value(2), a1 = api.value(3);
    let pts;
    if (branchKind[params.dataIndex] === 1) {
      const n = Math.max(2, Math.ceil(Math.abs(a1 - a0) * 2)); pts = [];
      for (let k = 0; k <= n; k++) pts.push(api.coord([r0, a0 + (a1 - a0) * k / n]));
    } else pts = [api.coord([r0, a0]), api.coord([r1, a1])];
    return { type: 'polyline', shape: { points: pts }, style: { stroke: branchCol[params.dataIndex], lineWidth: api.value(4), fill: 'none' } };
  } });
series.push({ type: 'custom', coordinateSystem: 'polar', polarIndex: 0, silent: true, z: 3, encode: { radius: 0, angle: 1 },
  data: nodeData,
  renderItem: (params, api) => {
    const p = api.coord([api.value(0), api.value(1)]);
    return { type: 'circle', shape: { cx: p[0], cy: p[1], r: api.value(2) }, style: { fill: nodeCol[params.dataIndex], stroke: '#222', lineWidth: 0.6 } };
  } });

chart.setOption({
  animation: false,
  backgroundColor: '#fff',
  grid: grids, xAxis: xAxes, yAxis: yAxes,
  polar: { center: [1209, 1443], radius: 250 },
  angleAxis: { type: 'value', min: 0, max: angleMax, startAngle: 352, clockwise: false,
    axisLine: { show: false }, axisTick: { show: false }, axisLabel: { show: false }, splitLine: { show: false } },
  radiusAxis: { type: 'value', min: 0, max: 10, axisLine: { show: false }, axisTick: { show: false }, axisLabel: { show: false }, splitLine: { show: false } },
  series: series,
  graphic: gfx
});
</script>
</body>
</html>
